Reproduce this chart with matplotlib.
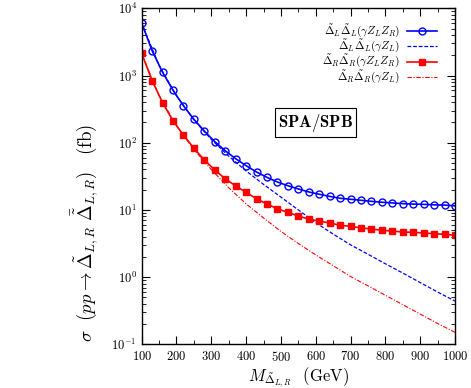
import numpy as np
import matplotlib
matplotlib.use("Agg")
import matplotlib.pyplot as plt
from matplotlib.lines import Line2D
from matplotlib.ticker import MultipleLocator, LogLocator, NullFormatter

plt.rcParams["font.family"] = "serif"
plt.rcParams["font.serif"] = ["cmr10"]
plt.rcParams["mathtext.fontset"] = "cm"
plt.rcParams["axes.formatter.use_mathtext"] = True
plt.rcParams["axes.unicode_minus"] = False

# mass grid with markers (GeV)
mass = [100, 130, 160, 190, 220, 250, 280, 310, 340, 370, 400, 430, 460, 490, 520, 550,
        580, 610, 640, 670, 700, 730, 760, 790, 820, 850, 880, 910, 940, 970, 1000]
# Delta_L Delta_L (gamma Z_L Z_R)  [fb]
sig_LL_full = [6040, 2340, 1116, 603, 354, 223, 149, 103.5, 76, 57.8, 45.5, 36.6, 30.5, 26.0,
               22.9, 20.5, 18.5, 17.1, 15.9, 14.9, 14.4, 13.9, 13.4, 13.0, 12.7, 12.4, 12.2,
               12.1, 11.9, 11.8, 11.5]
# Delta_R Delta_R (gamma Z_L Z_R)  [fb]
sig_RR_full = [2140, 837, 394, 212, 130, 82.6, 55.3, 39.3, 29.1, 22.7, 18.2, 14.7, 12.2, 10.4,
               9.2, 8.1, 7.3, 6.8, 6.4, 5.9, 5.7, 5.4, 5.2, 4.97, 4.85, 4.69, 4.64, 4.53,
               4.43, 4.34, 4.19]

# curves without markers
mass_line = [100, 150, 200, 250, 300, 350, 400, 450, 500, 550, 600, 650, 700, 750, 800,
             850, 900, 950, 1000]
sig_LL_zl = [5957, 1413, 501, 219, 112, 63.1, 38.0, 24.0, 15.5, 10.0, 6.46, 4.37, 3.02,
             2.19, 1.58, 1.15, 0.83, 0.60, 0.44]
sig_RR_zl = [2113, 501, 178, 79.4, 39.8, 21.4, 12.3, 7.59, 4.79, 3.16, 2.14, 1.48, 1.02,
             0.741, 0.537, 0.389, 0.282, 0.204, 0.151]

labels = [r"$\tilde{\Delta}_L\tilde{\Delta}_L(\gamma Z_L Z_R)$",
          r"$\tilde{\Delta}_L\tilde{\Delta}_L(\gamma Z_L)$",
          r"$\tilde{\Delta}_R\tilde{\Delta}_R(\gamma Z_L Z_R)$",
          r"$\tilde{\Delta}_R\tilde{\Delta}_R(\gamma Z_L)$"]

fig = plt.figure(figsize=(4.71, 3.88), dpi=100)
ax = fig.add_axes([0.3008, 0.1126, 0.6652, 0.866])

blue = "#0000ff"
red = "#ff0000"
styles = [
    dict(color=blue, lw=1.2, marker="o", ms=5, mfc="none", mec=blue, mew=1.0),
    dict(color=blue, lw=0.9, ls=(0, (3, 1.5))),
    dict(color=red, lw=1.2, marker="s", ms=4.2, mfc=red, mec=red),
    dict(color=red, lw=0.8, ls=(0, (4, 1.5, 1, 1.5))),
]

ax.plot(mass, sig_LL_full, **styles[0])
ax.plot(mass_line, sig_LL_zl, **styles[1])
ax.plot(mass, sig_RR_full, **styles[2])
ax.plot(mass_line, sig_RR_zl, **styles[3])

ax.set_yscale("log")
ax.set_xlim(100, 1000)
ax.set_ylim(0.1, 1e4)
ax.xaxis.set_major_locator(MultipleLocator(100))
ax.xaxis.set_minor_locator(MultipleLocator(50))
ax.yaxis.set_major_locator(LogLocator(base=10, numticks=10))
ax.yaxis.set_minor_locator(LogLocator(base=10, subs=np.arange(2, 10), numticks=10))
ax.yaxis.set_minor_formatter(NullFormatter())
ax.tick_params(which="both", direction="in", top=True, right=True, labelsize=9)
ax.tick_params(which="major", length=6, width=0.8)
ax.tick_params(which="minor", length=3, width=0.6)
ax.tick_params(axis="x", pad=4)
for s in ax.spines.values():
    s.set_linewidth(1.0)

ax.set_xlabel(r"$M_{\tilde{\Delta}_{L,R}}$  (GeV)", fontsize=12)
ax.xaxis.set_label_coords(0.5, -0.062)
ax.set_ylabel(r"$\sigma\ \ (pp \rightarrow \tilde{\Delta}_{L,R}\ \bar{\tilde{\Delta}}_{L,R})\quad$(fb)",
              fontsize=13.5)
ax.yaxis.set_label_coords(-0.133, 0.33)

ax.text(0.555, 0.66, r"$\mathbf{SPA/SPB}$", transform=ax.transAxes, fontsize=12,
        ha="center", va="center",
        bbox=dict(boxstyle="square,pad=0.2", fc="white", ec="black", lw=0.8))

# legend: labels right aligned, line sample on the right
rows = [0.932, 0.888, 0.841, 0.796]
for lab, st, yy in zip(labels, styles, rows):
    ax.text(0.824, yy, lab, transform=ax.transAxes, ha="right", va="center", fontsize=8.2)
    ln = Line2D([0.846, 0.942], [yy, yy], transform=ax.transAxes,
                **{k: v for k, v in st.items() if k not in ("marker", "ms", "mfc", "mec", "mew")})
    ax.add_line(ln)
    if "marker" in st:
        mk = Line2D([0.894], [yy], transform=ax.transAxes, ls="none", marker=st["marker"],
                    ms=st["ms"], mfc=st["mfc"], mec=st["mec"], mew=st.get("mew", 1.0))
        ax.add_line(mk)

fig.savefig("out.png", dpi=100)
